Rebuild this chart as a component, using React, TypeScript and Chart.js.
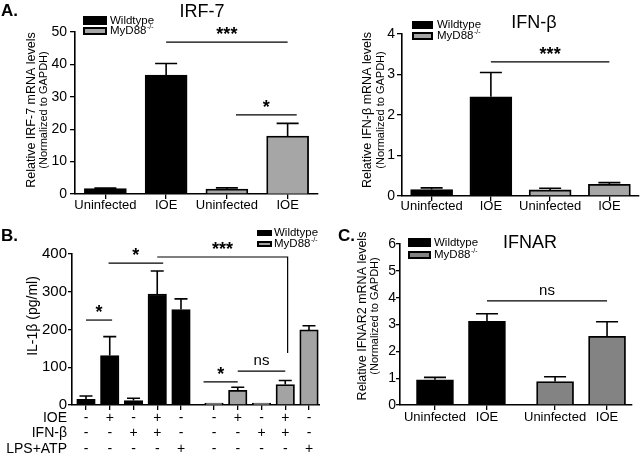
import React, { useEffect, useRef } from 'react';
import { Chart, registerables } from 'chart.js';

Chart.register(...registerables);

const FONT = 'Arial, "Liberation Sans", Helvetica, sans-serif';
Chart.defaults.font.family = FONT;

// ---------- Panel A (left): IRF-7 ----------
const irf7Labels = ['Uninfected', 'IOE', 'Uninfected', 'IOE'];
const irf7Wildtype = [1.7, 36.7];
const irf7WildtypeSem = [0.1, 3.6];
const irf7MyD88 = [1.5, 17.9];
const irf7MyD88Sem = [0.4, 3.9];

// ---------- Panel A (right): IFN-β ----------
const ifnbLabels = ['Uninfected', 'IOE', 'Uninfected', 'IOE'];
const ifnbWildtype = [0.16, 2.45];
const ifnbWildtypeSem = [0.04, 0.6];
const ifnbMyD88 = [0.15, 0.29];
const ifnbMyD88Sem = [0.04, 0.04];

// ---------- Panel B: IL-1β ----------
const il1bWildtype = [15, 131, 12, 294, 253];
const il1bWildtypeSem = [9, 50, 6, 61, 28];
const il1bMyD88 = [4, 39, 4, 54, 199];
const il1bMyD88Sem = [0, 8, 0, 11, 11];
const il1bIOE = ['-', '+', '-', '+', '-', '-', '+', '-', '+', '-'];
const il1bIFNb = ['-', '-', '+', '+', '-', '-', '-', '+', '+', '-'];
const il1bLPSATP = ['-', '-', '-', '-', '+', '-', '-', '-', '-', '+'];
const il1bRowLabels = ['IOE', 'IFN-β', 'LPS+ATP'];

// ---------- Panel C: IFNAR ----------
const ifnarLabels = ['Uninfected', 'IOE', 'Uninfected', 'IOE'];
const ifnarWildtype = [0.94, 3.12];
const ifnarWildtypeSem = [0.09, 0.28];
const ifnarMyD88 = [0.875, 2.56];
const ifnarMyD88Sem = [0.18, 0.54];

// significance brackets (bar index, y value)
const irf7Sig = [
  { from: 1, to: 3, y: 46.9, text: '***' },
  { from: 2.15, to: 3.15, y: 24.4, text: '*' },
];
const ifnbSig = [{ from: 1, to: 3, y: 3.31, text: '***' }];
const il1bSig = [
  { from: 0, to: 1.1, y: 225, text: '*' },
  { from: 0.95, to: 3.25, y: 376, text: '*' },
  { from: 3, to: 8.1, y: 392, text: '***', drop: 138 },
  { from: 4.95, to: 6, y: 61, text: '*' },
  { from: 6, to: 8, y: 90, text: 'ns' },
];
const ifnarSig = [{ from: 1, to: 3, y: 3.88, text: 'ns' }];

const GREY_A = '#a6a6a6';
const GREY_B = '#a3a3a3';
const GREY_C = '#838383';

const IL1B_GAP = 0.39;
const IFNAR_GAP = 0.31;
const il1bPositions = [
  ...il1bWildtype.map((_, i) => i),
  ...il1bMyD88.map((_, i) => il1bWildtype.length + IL1B_GAP + i),
];
const ifnarPositions = [
  ...ifnarWildtype.map((_, i) => i),
  ...ifnarMyD88.map((_, i) => ifnarWildtype.length + IFNAR_GAP + i),
];

function txt(ctx: CanvasRenderingContext2D, s: string, x: number, y: number, size: number, o: any = {}) {
  ctx.save();
  ctx.font = `${o.bold ? 'bold ' : ''}${size}px ${FONT}`;
  ctx.fillStyle = '#000';
  ctx.textAlign = o.align || 'center';
  ctx.textBaseline = o.baseline || 'middle';
  if (o.rotate) {
    ctx.translate(x, y);
    ctx.rotate(o.rotate);
    ctx.fillText(s, 0, 0);
  } else {
    ctx.fillText(s, x, y);
  }
  ctx.restore();
}

function legend(ctx: CanvasRenderingContext2D, x: number, w: number, ys: [number, number, number, number], grey: string, size: number, tx: number) {
  ctx.save();
  ctx.fillStyle = '#000';
  ctx.fillRect(x, ys[0], w, ys[1] - ys[0]);
  ctx.fillStyle = grey;
  ctx.fillRect(x, ys[2], w, ys[3] - ys[2]);
  ctx.strokeStyle = '#000';
  ctx.lineWidth = 2;
  ctx.strokeRect(x + 1, ys[2] + 1, w - 2, ys[3] - ys[2] - 2);
  ctx.restore();
  txt(ctx, 'Wildtype', tx, (ys[0] + ys[1]) / 2, size, { align: 'left' });
  const my = (ys[2] + ys[3]) / 2;
  txt(ctx, 'MyD88', tx, my, size, { align: 'left' });
  ctx.save();
  ctx.font = `${size}px ${FONT}`;
  const wMy = ctx.measureText('MyD88').width;
  ctx.restore();
  txt(ctx, '-/-', tx + wMy + 0.5, my - size * 0.35, size * 0.6, { align: 'left' });
}

function decorPlugin(origin: [number, number], capW: number, sig: any[], xOf: (v: number) => number, extras: (ctx: CanvasRenderingContext2D, chart: any) => void) {
  return {
    id: 'decor',
    afterDatasetsDraw(chart: any) {
      const ctx: CanvasRenderingContext2D = chart.ctx;
      const ys = chart.scales.y;
      const xs = chart.scales.x;
      ctx.save();
      ctx.strokeStyle = '#000';
      ctx.lineWidth = 1.6;
      chart.data.datasets.forEach((ds: any, di: number) => {
        const meta = chart.getDatasetMeta(di);
        meta.data.forEach((el: any, i: number) => {
          const raw = ds.data[i];
          const v = raw == null ? null : typeof raw === 'object' ? raw.y : raw;
          const e = ds.errors[i];
          if (v == null || !e) return;
          const yTop = ys.getPixelForValue(v + e);
          const yBar = ys.getPixelForValue(v);
          ctx.beginPath();
          ctx.moveTo(el.x, yBar);
          ctx.lineTo(el.x, yTop);
          ctx.moveTo(el.x - capW / 2, yTop);
          ctx.lineTo(el.x + capW / 2, yTop);
          ctx.stroke();
        });
      });
      ctx.lineWidth = 1.2;
      sig.forEach((s) => {
        const x1 = xs.getPixelForValue(xOf(s.from));
        const x2 = xs.getPixelForValue(xOf(s.to));
        const y = ys.getPixelForValue(s.y);
        ctx.beginPath();
        ctx.moveTo(x1, y);
        ctx.lineTo(x2, y);
        if (s.drop != null) {
          ctx.lineTo(x2, ys.getPixelForValue(s.drop));
        }
        ctx.stroke();
        const mx = (x1 + x2) / 2;
        if (s.text === 'ns') {
          txt(ctx, 'ns', mx, y - 6, 15, { baseline: 'alphabetic' });
        } else {
          txt(ctx, s.text, mx, y - 2, 18, { baseline: 'alphabetic', bold: true });
        }
      });
      ctx.restore();
    },
    afterDraw(chart: any) {
      const ctx: CanvasRenderingContext2D = chart.ctx;
      ctx.save();
      ctx.translate(-origin[0], -origin[1]);
      extras(ctx, chart);
      ctx.restore();
    },
  };
}

function baseOptions(p: any) {
  const x: any = {
    type: p.xType,
    offset: p.xType === 'category',
    grid: { display: true, drawOnChartArea: false, drawTicks: true, tickLength: p.xTickLen, color: '#000', lineWidth: 1.3, offset: false },
    border: { display: true, color: '#000', width: 1.6 },
    ticks: {
      color: '#000',
      font: { size: p.xFont, family: FONT, lineHeight: p.xLineHeight },
      padding: p.xPad,
      maxRotation: 0,
      minRotation: 0,
      autoSkip: false,
    },
    afterFit: (s: any) => { s.height = p.xHeight; },
  };
  if (p.xType === 'linear') {
    x.min = p.xMin;
    x.max = p.xMax;
    x.afterBuildTicks = (s: any) => { s.ticks = p.xPositions.map((v: number) => ({ value: v })); };
    x.ticks.callback = p.xCallback;
  }
  return {
    responsive: false,
    animation: false,
    events: [],
    layout: { padding: { top: p.padTop, right: p.padRight, left: 0, bottom: 0 } },
    plugins: { legend: { display: false }, tooltip: { enabled: false }, title: { display: false } },
    scales: {
      x,
      y: {
        min: 0,
        max: p.yMax,
        grid: { display: true, drawOnChartArea: false, drawTicks: true, tickLength: p.yTickLen, color: '#000', lineWidth: 1.3 },
        border: { display: true, color: '#000', width: 1.6 },
        ticks: { stepSize: p.yStep, color: '#000', font: { size: p.yFont, family: FONT }, padding: p.yPad },
        afterFit: (s: any) => { s.width = p.yWidth; },
      },
    },
  };
}

function catDatasets(wt: number[], wtSem: number[], my: number[], mySem: number[], grey: string, thick: number) {
  const n = wt.length + my.length;
  const wd: (number | null)[] = Array(n).fill(null);
  const we: (number | null)[] = Array(n).fill(null);
  const md: (number | null)[] = Array(n).fill(null);
  const me: (number | null)[] = Array(n).fill(null);
  wt.forEach((v, i) => { wd[i] = v; we[i] = wtSem[i]; });
  my.forEach((v, i) => { md[wt.length + i] = v; me[wt.length + i] = mySem[i]; });
  return [
    { label: 'Wildtype', data: wd, errors: we, backgroundColor: '#000', borderColor: '#000', borderWidth: 1.5, barThickness: thick, skipNull: true },
    { label: 'MyD88-/-', data: md, errors: me, backgroundColor: grey, borderColor: '#000', borderWidth: 1.8, barThickness: thick, skipNull: true },
  ];
}

function linDatasets(pos: number[], wt: number[], wtSem: number[], my: number[], mySem: number[], grey: string, thick: number) {
  return [
    { label: 'Wildtype', data: wt.map((v, i) => ({ x: pos[i], y: v })), errors: wtSem, backgroundColor: '#000', borderColor: '#000', borderWidth: 1.5, barThickness: thick, grouped: false },
    { label: 'MyD88-/-', data: my.map((v, i) => ({ x: pos[wt.length + i], y: v })), errors: mySem, backgroundColor: grey, borderColor: '#000', borderWidth: 1.8, barThickness: thick, grouped: false, minBarLength: 2 },
  ];
}

const panels: any[] = [
  {
    key: 'irf7', left: 0, top: 0, w: 320, h: 215,
    make: () => ({
      type: 'bar',
      data: { labels: irf7Labels, datasets: catDatasets(irf7Wildtype, irf7WildtypeSem, irf7MyD88, irf7MyD88Sem, GREY_A, 42) },
      options: baseOptions({ xType: 'category', xHeight: 21, xFont: 13, xLineHeight: 1, xPad: 0, xTickLen: 5, padTop: 32, padRight: 2, yMax: 50, yStep: 10, yFont: 14, yPad: 3, yTickLen: 5, yWidth: 75 }),
      plugins: [decorPlugin([0, 0], 22, irf7Sig, (v) => v, (ctx) => {
        txt(ctx, 'A.', 1, 11, 17, { bold: true, align: 'left' });
        txt(ctx, 'IRF-7', 202, 12, 18);
        legend(ctx, 83, 24, [16, 25, 27, 35], GREY_A, 11.5, 110);
        txt(ctx, 'Relative IRF-7 mRNA levels', 32, 110, 12.5, { rotate: -Math.PI / 2 });
        txt(ctx, '(Normalized to GAPDH)', 44, 110, 11, { rotate: -Math.PI / 2 });
      })],
    }),
  },
  {
    key: 'ifnb', left: 320, top: 0, w: 321, h: 215,
    make: () => ({
      type: 'bar',
      data: { labels: ifnbLabels, datasets: catDatasets(ifnbWildtype, ifnbWildtypeSem, ifnbMyD88, ifnbMyD88Sem, GREY_A, 42) },
      options: baseOptions({ xType: 'category', xHeight: 19, xFont: 13, xLineHeight: 1, xPad: -1.5, xTickLen: 5, padTop: 34, padRight: 2, yMax: 4, yStep: 1, yFont: 14, yPad: 2, yTickLen: 5, yWidth: 82 }),
      plugins: [decorPlugin([320, 0], 22, ifnbSig, (v) => v, (ctx) => {
        txt(ctx, 'IFN-β', 534, 23, 18);
        legend(ctx, 412, 21, [21, 29, 32, 40], GREY_A, 11.5, 437);
        txt(ctx, 'Relative IFN-β mRNA levels', 368, 110, 12.5, { rotate: -Math.PI / 2 });
        txt(ctx, '(Normalized to GAPDH)', 381, 110, 11, { rotate: -Math.PI / 2 });
      })],
    }),
  },
  {
    key: 'il1b', left: 0, top: 220, w: 320, h: 234,
    make: () => ({
      type: 'bar',
      data: { datasets: linDatasets(il1bPositions, il1bWildtype, il1bWildtypeSem, il1bMyD88, il1bMyD88Sem, GREY_B, 18.5) },
      options: baseOptions({
        xType: 'linear', xMin: -0.589, xMax: 9.853, xPositions: il1bPositions,
        xCallback: (_v: number, i: number) => [il1bIOE[i], il1bIFNb[i], il1bLPSATP[i]],
        xHeight: 49, xFont: 14, xLineHeight: '15.5px', xPad: 0, xTickLen: 5,
        padTop: 34, padRight: 0, yMax: 400, yStep: 100, yFont: 15, yPad: 1, yTickLen: 4, yWidth: 72,
      }),
      plugins: [decorPlugin([0, 220], 13, il1bSig, (v) => (v < 5 ? v : v + IL1B_GAP), (ctx, chart) => {
        txt(ctx, 'B.', 1, 236, 17, { bold: true, align: 'left' });
        legend(ctx, 257, 15, [230, 236, 241, 247], GREY_B, 11.5, 274);
        txt(ctx, 'IL-1β (pg/ml)', 33, 316, 14, { rotate: -Math.PI / 2 });
        const xs = chart.scales.x;
        il1bRowLabels.forEach((l, i) => {
          txt(ctx, l, 67, 220 + xs.top + 5 + 15.5 * (i + 0.5), 14, { align: 'right' });
        });
      })],
    }),
  },
  {
    key: 'ifnar', left: 320, top: 220, w: 321, h: 234,
    make: () => ({
      type: 'bar',
      data: { datasets: linDatasets(ifnarPositions, ifnarWildtype, ifnarWildtypeSem, ifnarMyD88, ifnarMyD88Sem, GREY_C, 37) },
      options: baseOptions({
        xType: 'linear', xMin: -0.673, xMax: 3.79, xPositions: ifnarPositions,
        xCallback: (_v: number, i: number) => ifnarLabels[i],
        xHeight: 49, xFont: 13, xLineHeight: 1, xPad: 0.5, xTickLen: 5,
        padTop: 24, padRight: 9, yMax: 6, yStep: 1, yFont: 14, yPad: 0, yTickLen: 4, yWidth: 80,
      }),
      plugins: [decorPlugin([320, 220], 22, ifnarSig, (v) => (v < 2 ? v : v + IFNAR_GAP), (ctx) => {
        txt(ctx, 'C.', 338, 236, 17, { bold: true, align: 'left' });
        txt(ctx, 'IFNAR', 530, 243, 18);
        legend(ctx, 408, 23, [238, 247, 251, 259], GREY_C, 11.5, 434);
        txt(ctx, 'Relative IFNAR2 mRNA levels', 363, 316, 12.5, { rotate: -Math.PI / 2 });
        txt(ctx, '(Normalized to GAPDH)', 375, 316, 11, { rotate: -Math.PI / 2 });
      })],
    }),
  },
];

function Panel({ p }: { p: any }) {
  const ref = useRef<HTMLCanvasElement | null>(null);
  useEffect(() => {
    if (!ref.current) return;
    const chart = new Chart(ref.current, p.make());
    return () => chart.destroy();
  }, [p]);
  return (
    <canvas
      ref={ref}
      width={p.w}
      height={p.h}
      style={{ position: 'absolute', left: p.left, top: p.top, width: p.w, height: p.h }}
    />
  );
}

export default function App() {
  return (
    <div style={{ position: 'absolute', left: 0, top: 0, width: 641, height: 454, background: '#fff', overflow: 'hidden' }}>
      {panels.map((p) => (
        <Panel key={p.key} p={p} />
      ))}
    </div>
  );
}
